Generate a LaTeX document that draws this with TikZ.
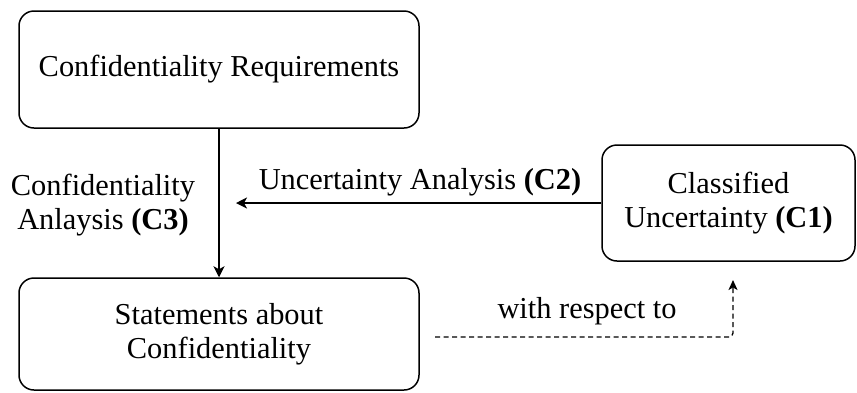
\documentclass[tikz,border=0pt]{standalone}
\usepackage{fontspec}
\setmainfont{Liberation Serif}
\usetikzlibrary{arrows.meta}
\begin{document}
\begin{tikzpicture}[x=1pt,y=-1pt,
  box/.style={draw,line width=1.5pt,rounded corners=15pt,align=center,inner sep=0pt},
  lbl/.style={align=center,inner sep=0pt},
  conn/.style={line width=1.5pt,-{Stealth[length=11pt,width=11pt,inset=3pt]}},
  dconn/.style={line width=1.3pt,dashed,dash pattern=on 5pt off 3.5pt,rounded corners=4pt,-{Stealth[length=10pt,width=9pt,inset=2.5pt]}},
  font=\fontsize{30.4}{34}\selectfont]
\useasboundingbox (0,0) rectangle (857,392);
\node[box,minimum width=400pt,minimum height=117pt] (req) at (219,69.5) {Confidentiality Requirements};
\node[box,minimum width=400pt,minimum height=112pt] (stm) at (219,334) {Statements about\\Confidentiality};
\node[box,minimum width=253pt,minimum height=116pt] (unc) at (728.5,203) {Classified\\Uncertainty \textbf{(C1)}};
\coordinate (htip) at (236,203);
\coordinate (dstart) at (435,337);
\coordinate (dtip) at (733,280);
\draw[conn] (req.south) -- (stm.north);
\draw[conn] (unc.west) -- (htip);
\draw[dconn] (dstart) -| (dtip);
\node[lbl] (c2) at (420,182) {Uncertainty Analysis \textbf{(C2)}};
\node[lbl] (c3) at (103,205) {Confidentiality\\Anlaysis \textbf{(C3)}};
\node[lbl] (wrt) at (587,311) {with respect to};
\end{tikzpicture}
\end{document}
